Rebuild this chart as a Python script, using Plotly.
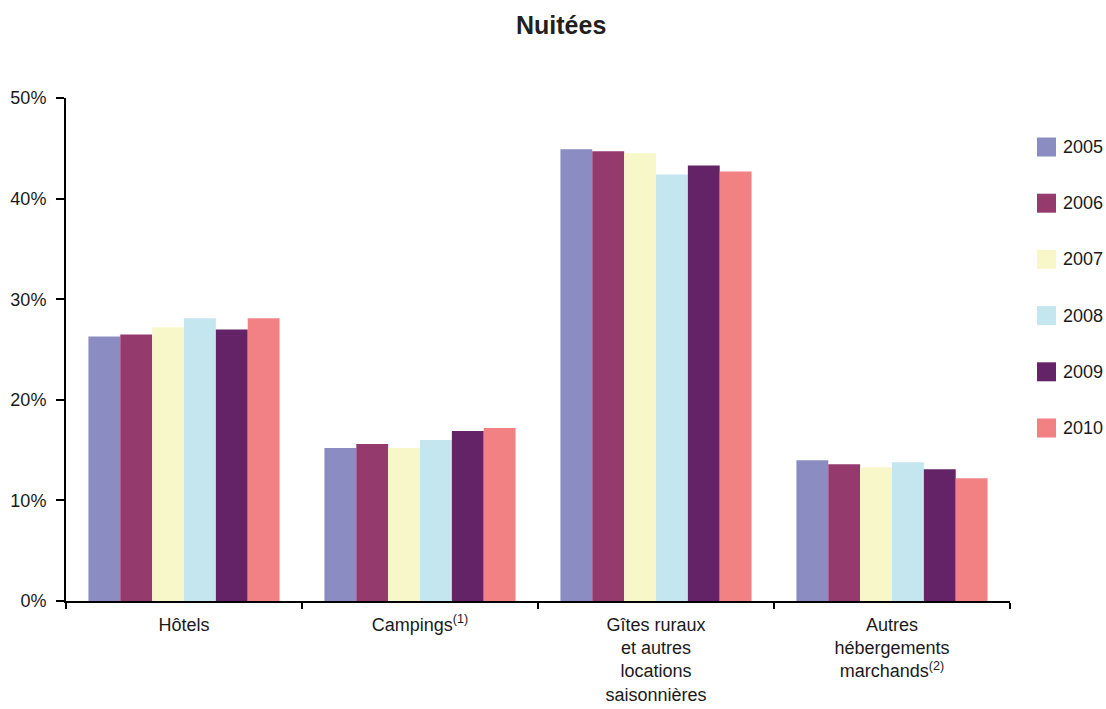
import plotly.graph_objects as go

# Share of overnight stays by accommodation type (%)
categories = [
    "Hôtels",
    "Campings<sup>(1)</sup>",
    "Gîtes ruraux<br>et autres<br>locations<br>saisonnières",
    "Autres<br>hébergements<br>marchands<sup>(2)</sup>",
]
years = ["2005", "2006", "2007", "2008", "2009", "2010"]
values = {
    "2005": [26.3, 15.2, 44.9, 14.0],
    "2006": [26.5, 15.6, 44.7, 13.6],
    "2007": [27.2, 15.2, 44.5, 13.3],
    "2008": [28.1, 16.0, 42.4, 13.8],
    "2009": [27.0, 16.9, 43.3, 13.1],
    "2010": [28.1, 17.2, 42.7, 12.2],
}
colors = ["#8B8DC2", "#943A6C", "#F8F7C9", "#C3E6EF", "#632366", "#F28183"]

FONT = "Liberation Sans, Arial, sans-serif"

W, H = 1106, 709
L, R, T, B = 66, 96, 98, 108

fig = go.Figure()
for year, color in zip(years, colors):
    fig.add_trace(go.Bar(
        x=categories, y=values[year], name=year,
        marker=dict(color=color, line=dict(width=0)),
        showlegend=False,
    ))

# Legend: colour squares with year labels to the right of the plot
def px_to_paper_x(px):
    return (px - L) / (W - L - R)

def px_to_paper_y(py):
    return (H - B - py) / (H - T - B)

shapes, annotations = [], []
for i, (year, color) in enumerate(zip(years, colors)):
    cy = 147 + i * 56.2
    shapes.append(dict(
        type="rect", xref="paper", yref="paper",
        x0=px_to_paper_x(1037), x1=px_to_paper_x(1056),
        y0=px_to_paper_y(cy + 9.5), y1=px_to_paper_y(cy - 9.5),
        fillcolor=color, line=dict(width=0),
    ))
    annotations.append(dict(
        text=year, xref="paper", yref="paper",
        x=px_to_paper_x(1061), y=px_to_paper_y(cy),
        xanchor="left", yanchor="middle", showarrow=False,
        font=dict(family=FONT, size=18, color="#1a1a1a"),
    ))

annotations.append(dict(
    text="<b>Nuitées</b>", xref="paper", yref="paper",
    x=px_to_paper_x(561), y=px_to_paper_y(25),
    xanchor="center", yanchor="middle", showarrow=False,
    font=dict(family=FONT, size=25, color="#231f20"),
))

fig.update_layout(
    width=W, height=H,
    margin=dict(l=L, r=R, t=T, b=B),
    paper_bgcolor="white", plot_bgcolor="white",
    barmode="group", bargap=0.19, bargroupgap=0,
    font=dict(family=FONT, size=18, color="#1a1a1a"),
    shapes=shapes, annotations=annotations,
)
fig.update_xaxes(
    automargin=False,
    showline=True, linecolor="black", linewidth=2,
    ticks="outside", tickson="boundaries", ticklen=6, tickwidth=2, tickcolor="black",
    showgrid=False, tickfont=dict(size=18), ticklabelstandoff=6,
)
fig.update_yaxes(
    automargin=False,
    range=[0, 50], tickvals=[0, 10, 20, 30, 40, 50],
    ticktext=["0%", "10%", "20%", "30%", "40%", "50%"],
    showline=True, linecolor="black", linewidth=2,
    ticks="outside", ticklen=8, tickwidth=2, tickcolor="black",
    showgrid=False, zeroline=False, tickfont=dict(size=18), ticklabelstandoff=6,
)

fig.write_html("out.html")
